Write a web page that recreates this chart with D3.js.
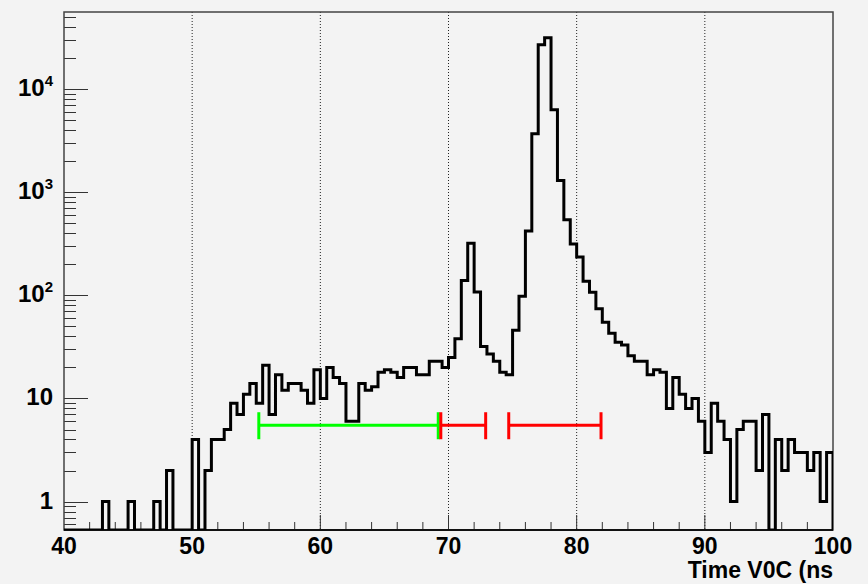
<!DOCTYPE html>
<html>
<head>
<meta charset="utf-8">
<script src="https://cdn.jsdelivr.net/npm/d3@7"></script>
<style>
  html, body { margin: 0; padding: 0; background: #f3f3f3; }
  svg { display: block; }
  text { font-family: "Liberation Sans", Arial, sans-serif; font-weight: bold; fill: #000; }
</style>
</head>
<body>
<div id="draw"></div>
<script>
// histogram: 120 bins of 0.5 ns from 40 to 100
var binStart = 40;
var binWidth = 0.5;
var counts = [
  0, 0, 0, 0, 0, 0, 1, 0, 0, 0,        // 40 - 45
  1, 0, 0, 0, 1, 0, 2, 0, 0, 0,        // 45 - 50
  4, 0, 2, 4, 4, 5, 9, 7, 11, 14,      // 50 - 55
  9, 21, 7, 17, 12, 14, 14, 12, 9, 19, // 55 - 60
  10, 20, 16, 14, 6, 6, 14, 12, 13, 18,// 60 - 65
  19, 18, 16, 20, 20, 17, 17, 23, 23, 20, // 65 - 70
  25, 38, 139, 320, 108, 32, 27, 23, 18, 17, // 70 - 75
  46, 98, 420, 3700, 27000, 31500, 6300, 1300, 540, 315, // 75 - 80
  236, 137, 107, 74, 55, 43, 35, 33, 26, 23, // 80 - 85
  23, 17, 19, 18, 8, 16, 11, 8, 10, 6,  // 85 - 90
  3, 9, 6, 4, 1, 5, 6, 6, 2, 7,         // 90 - 95
  0, 4, 2, 4, 3, 3, 2, 3, 1, 3          // 95 - 100
];

// time windows drawn as horizontal bars
var windowLo = [55.2, 69.4, 74.7];
var windowHi = [69.2, 72.9, 81.9];
var windowLevel = 5.5;
var windowColor = ['#00ff00', '#ff0000', '#ff0000'];

var xTicks = [40, 50, 60, 70, 80, 90, 100];
var yTicks = [1, 10, 100, 1000, 10000];
var yTickLabels = [['1', ''], ['10', ''], ['10', '2'], ['10', '3'], ['10', '4']];
var xTitle = 'Time V0C (ns';

var W = 868, H = 584;
var padL = 64, padR = 833, padT = 12, padB = 530;

var svg = d3.select('#draw').append('svg').attr('width', W).attr('height', H);
svg.append('rect').attr('width', W).attr('height', H).attr('fill', '#f3f3f3');

var x = d3.scaleLinear().domain([40, 100]).range([padL, padR]);
var y = d3.scaleLog().domain([0.53, 56000]).range([padB, padT]);

svg.append('defs').append('clipPath').attr('id', 'frame')
  .append('rect').attr('x', padL).attr('y', padT).attr('width', padR - padL).attr('height', padB - padT);

// grid (vertical dotted)
svg.append('g').selectAll('line').data(xTicks.slice(1, -1)).enter().append('line')
  .attr('x1', function(d) { return x(d); }).attr('x2', function(d) { return x(d); })
  .attr('y1', padT).attr('y2', padB)
  .attr('stroke', '#222').attr('stroke-width', 1).attr('stroke-dasharray', '1,2');

// y axis minor / major ticks
var yMinor = [];
for (var e = -1; e <= 4; e++) {
  for (var m = 1; m <= 9; m++) {
    var v = m * Math.pow(10, e);
    if (v >= y.domain()[0] && v <= y.domain()[1]) yMinor.push(v);
  }
}
svg.append('g').selectAll('line').data(yMinor).enter().append('line')
  .attr('x1', padL).attr('x2', function(d) { return yTicks.indexOf(d) >= 0 ? padL + 24 : padL + 12; })
  .attr('y1', function(d) { return Math.round(y(d)) + 0.5; }).attr('y2', function(d) { return Math.round(y(d)) + 0.5; })
  .attr('stroke', '#333').attr('stroke-width', 1);

// x axis ticks: major every 10, minor every 2
var xMinor = d3.range(42, 100, 2);
svg.append('g').selectAll('line').data(xMinor).enter().append('line')
  .attr('x1', function(d) { return x(d); }).attr('x2', function(d) { return x(d); })
  .attr('y1', padB).attr('y2', function(d) { return d % 10 === 0 ? padB - 15 : padB - 8; })
  .attr('stroke', '#333').attr('stroke-width', 1);

// frame
svg.append('rect').attr('x', padL).attr('y', padT).attr('width', padR - padL).attr('height', padB - padT)
  .attr('fill', 'none').attr('stroke', '#444').attr('stroke-width', 1.5);
svg.append('line').attr('x1', padL).attr('x2', padR).attr('y1', padB).attr('y2', padB)
  .attr('stroke', '#111').attr('stroke-width', 2);

// histogram steps
var pts = [];
var yOf = function(c) { return c > 0 ? y(c) : padB; };
pts.push([x(binStart), padB]);
for (var i = 0; i < counts.length; i++) {
  var x0 = x(binStart + i * binWidth), x1 = x(binStart + (i + 1) * binWidth);
  pts.push([x0, yOf(counts[i])]);
  pts.push([x1, yOf(counts[i])]);
}
pts.push([x(binStart + counts.length * binWidth), padB]);
svg.append('path').attr('d', d3.line()(pts))
  .attr('fill', 'none').attr('stroke', '#000').attr('stroke-width', 3)
  .attr('stroke-linejoin', 'miter').attr('clip-path', 'url(#frame)');

// windows
var wy = y(windowLevel);
for (var k = 0; k < windowLo.length; k++) {
  var g = svg.append('g').attr('stroke', windowColor[k]).attr('stroke-width', 3);
  g.append('line').attr('x1', x(windowLo[k])).attr('x2', x(windowHi[k])).attr('y1', wy).attr('y2', wy);
  g.append('line').attr('x1', x(windowLo[k])).attr('x2', x(windowLo[k])).attr('y1', wy - 13).attr('y2', wy + 14);
  g.append('line').attr('x1', x(windowHi[k])).attr('x2', x(windowHi[k])).attr('y1', wy - 13).attr('y2', wy + 14);
}

// x labels
svg.append('g').selectAll('text').data(xTicks).enter().append('text')
  .attr('x', function(d) { return x(d); }).attr('y', 554)
  .attr('text-anchor', 'middle').attr('font-size', 23)
  .text(function(d) { return d; });

svg.append('text').attr('x', padR).attr('y', 578).attr('text-anchor', 'end')
  .attr('font-size', 23).text(xTitle);

// y labels
var yl = svg.append('g').selectAll('text').data(yTicks).enter().append('text')
  .attr('x', 53).attr('y', function(d) { return y(d) + 7; })
  .attr('text-anchor', 'end').attr('font-size', 24);
yl.append('tspan').text(function(d, i) { return yTickLabels[i][0]; });
yl.append('tspan').attr('dy', -10).attr('font-size', 15)
  .text(function(d, i) { return yTickLabels[i][1]; });
</script>
</body>
</html>
